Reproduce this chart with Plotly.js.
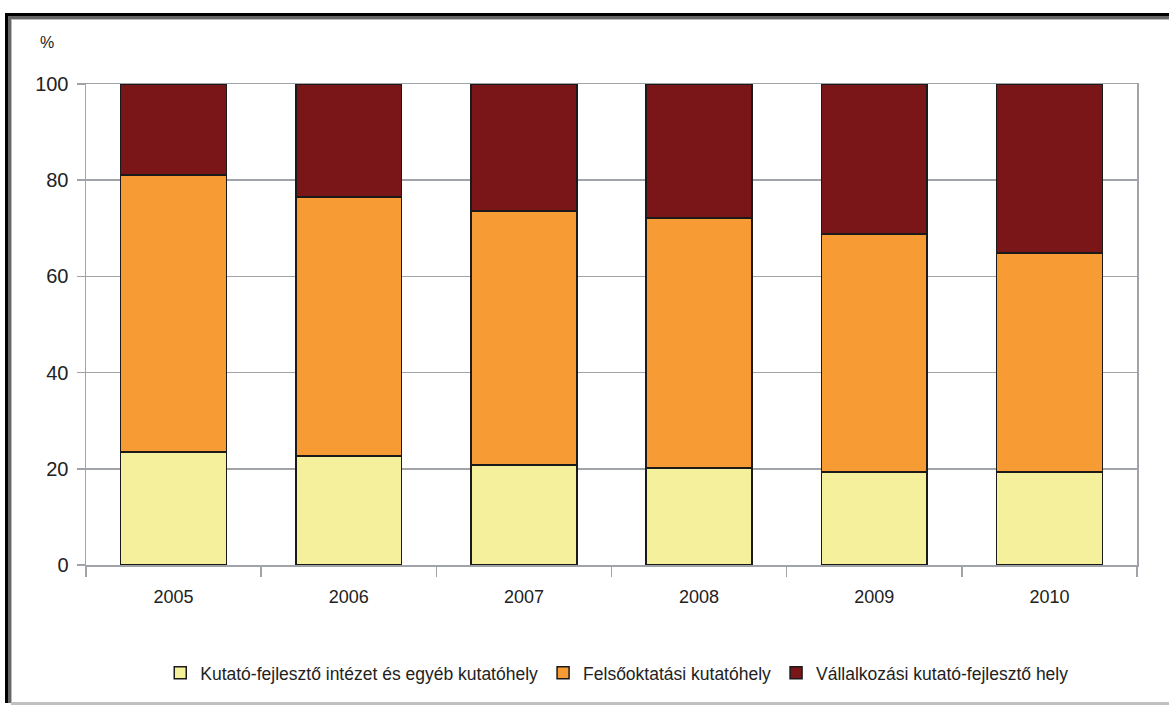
<!DOCTYPE html>
<html>
<head>
<meta charset="utf-8">
<script src="https://cdn.plot.ly/plotly-3.0.1.min.js"></script>
<style>
  html, body { margin: 0; padding: 0; background: #fff; width: 1169px; height: 705px; overflow: hidden; }
  #frame { position: absolute; left: 5px; top: 13px; width: 1200px; height: 690px;
           border-top: 3px solid #000; border-left: 3px solid #000; box-sizing: border-box; }
  #frame2 { position: absolute; left: 8px; top: 16px; width: 1200px; height: 687px;
           border-top: 3px solid #666; border-left: 3px solid #666; box-sizing: border-box; }
  #frame3 { position: absolute; left: 11px; top: 19px; width: 1200px; height: 684px;
           border-top: 1px solid #bbb; border-left: 1px solid #bbb; box-sizing: border-box; }
  #bottomline { position: absolute; left: 11px; top: 702px; width: 1200px; height: 3px; background: #c0c0c0; }
  #chart { position: absolute; left: 0; top: 0; width: 1169px; height: 705px; }
</style>
</head>
<body>
<div id="frame"></div>
<div id="frame2"></div>
<div id="frame3"></div>
<div id="bottomline"></div>
<div id="chart"></div>
<script>
const years = ['2005', '2006', '2007', '2008', '2009', '2010'];
const seriesNames = ['Kutató-fejlesztő intézet és egyéb kutatóhely', 'Felsőoktatási kutatóhely', 'Vállalkozási kutató-fejlesztő hely'];
const kutatoIntezet = [23.5, 22.7, 20.8, 20.2, 19.3, 19.3];
const felsooktatasi = [57.6, 53.8, 52.8, 51.9, 49.5, 45.6];
const vallalkozasi = [18.9, 23.5, 26.4, 27.9, 31.2, 35.1];
const colors = ['#F5F09C', '#F79B34', '#7A1518'];
const yTicks = [0, 20, 40, 60, 80, 100];

const font = "'Liberation Sans', Arial, sans-serif";
const values = [kutatoIntezet, felsooktatasi, vallalkozasi];
const traces = values.map((v, i) => ({
  type: 'bar',
  name: seriesNames[i],
  x: years,
  y: v,
  marker: { color: colors[i], line: { color: '#1a1a1a', width: 1.5 } },
  hoverinfo: 'x+y+name'
}));

const layout = {
  width: 1169, height: 705,
  paper_bgcolor: 'rgba(0,0,0,0)',
  plot_bgcolor: 'rgba(0,0,0,0)',
  margin: { l: 86, r: 32, t: 84, b: 140 },
  barmode: 'stack',
  bargap: 0.395,
  font: { family: font, size: 16, color: '#222' },
  showlegend: true,
  legend: {
    orientation: 'h', x: 0.505, xanchor: 'center', y: -0.2245, yanchor: 'middle',
    font: { family: font, size: 17.5, color: '#222' },
    itemwidth: 30, traceorder: 'normal'
  },
  xaxis: {
    type: 'category',
    showgrid: false,
    showline: true, linecolor: '#a0a4a8', linewidth: 1.5, mirror: true,
    ticks: 'outside', tickson: 'boundaries', ticklen: 10, tickcolor: '#a0a4a8', tickwidth: 1.5,
    tickfont: { family: font, size: 18, color: '#222' },
    ticklabelstandoff: 15,
    fixedrange: true
  },
  yaxis: {
    range: [0, 100],
    tickvals: yTicks,
    ticktext: yTicks.map(String),
    showgrid: true, gridcolor: '#a0a4a8', gridwidth: 1.5,
    showline: true, linecolor: '#a0a4a8', linewidth: 1.5, mirror: true,
    ticks: 'outside', ticklen: 8, tickcolor: '#a0a4a8', tickwidth: 1.5,
    tickfont: { family: font, size: 20, color: '#222' },
    ticklabelstandoff: 4,
    zeroline: false,
    fixedrange: true
  },
  annotations: [{
    text: '%', xref: 'paper', yref: 'paper', x: (47 - 86) / 1051, y: (565 - 42) / 481,
    xanchor: 'center', yanchor: 'middle', showarrow: false,
    font: { family: font, size: 16, color: '#222' }
  }]
};

Plotly.newPlot('chart', traces, layout, { displayModeBar: false, staticPlot: true });
</script>
</body>
</html>
